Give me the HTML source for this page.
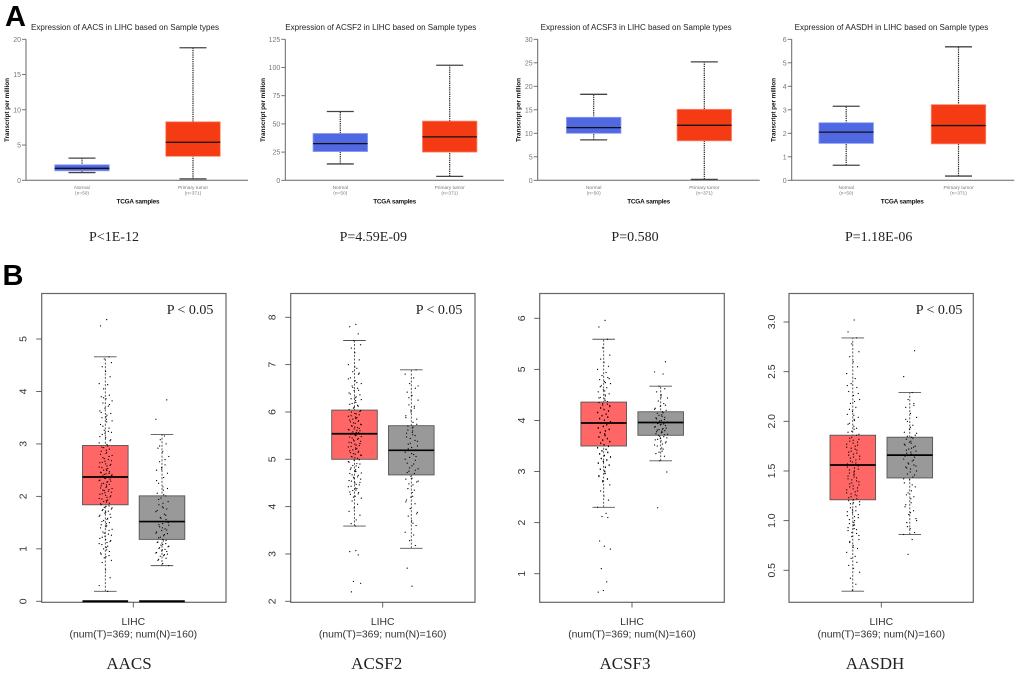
<!DOCTYPE html>
<html lang="en">
<head>
<meta charset="utf-8">
<title>Expression of AACS, ACSF2, ACSF3 and AASDH in LIHC</title>
<style>
html,body{margin:0;padding:0;background:#fff;}
svg{display:block;filter:blur(0.35px);}
.letter{font:bold 29px "Liberation Sans",sans-serif;fill:#000;}
.atitle{font:8px "Liberation Sans",sans-serif;fill:#222;}
.ylab{font:bold 6.4px "Liberation Sans",sans-serif;fill:#111;text-anchor:middle;}
.xlab{font:bold 6.4px "Liberation Sans",sans-serif;fill:#111;text-anchor:middle;}
.pa{font:14px "Liberation Serif",serif;fill:#222;text-anchor:middle;}
.pb{font:14px "Liberation Serif",serif;fill:#222;}
.gene{font:17px "Liberation Serif",serif;fill:#222;text-anchor:middle;}
.cat{font:10.4px "Liberation Sans",sans-serif;fill:#333;text-anchor:middle;}
</style>
</head>
<body>
<svg id="figure" xmlns="http://www.w3.org/2000/svg" width="1020" height="674" viewBox="0 0 1020 674">
  <rect x="0" y="0" width="1020" height="674" fill="#ffffff"/>
  <text class="letter" x="5" y="26">A</text>
  <text class="letter" x="2.5" y="285">B</text>

  <text class="atitle" x="31" y="30" textLength="188" lengthAdjust="spacingAndGlyphs">Expression of AACS in LIHC based on Sample types</text>
  <text class="atitle" x="285.3" y="30" textLength="191" lengthAdjust="spacingAndGlyphs">Expression of ACSF2 in LIHC based on Sample types</text>
  <text class="atitle" x="540.7" y="30" textLength="191" lengthAdjust="spacingAndGlyphs">Expression of ACSF3 in LIHC based on Sample types</text>
  <text class="atitle" x="794.7" y="30" textLength="193.6" lengthAdjust="spacingAndGlyphs">Expression of AASDH in LIHC based on Sample types</text>

  <text class="ylab" transform="translate(9,110) rotate(-90)" textLength="64">Transcript per million</text>
  <text class="ylab" transform="translate(265,110) rotate(-90)" textLength="64">Transcript per million</text>
  <text class="ylab" transform="translate(520.5,110) rotate(-90)" textLength="64">Transcript per million</text>
  <text class="ylab" transform="translate(775.5,110) rotate(-90)" textLength="64">Transcript per million</text>

  <text class="xlab" x="138" y="203.5" textLength="43">TCGA samples</text>
  <text class="xlab" x="394.7" y="203.5" textLength="43">TCGA samples</text>
  <text class="xlab" x="648.7" y="203.5" textLength="43">TCGA samples</text>
  <text class="xlab" x="902.3" y="203.5" textLength="43">TCGA samples</text>

  <text class="pa" x="114" y="241">P&lt;1E-12</text>
  <text class="pa" x="373.3" y="241">P=4.59E-09</text>
  <text class="pa" x="635" y="241">P=0.580</text>
  <text class="pa" x="878.7" y="241">P=1.18E-06</text>

  <text class="pb" x="166.7" y="314">P &lt; 0.05</text>
  <text class="pb" x="415.7" y="314">P &lt; 0.05</text>
  <text class="pb" x="915.7" y="314">P &lt; 0.05</text>

  <text class="cat" x="133.3" y="625">LIHC</text>
  <text class="cat" x="133.3" y="637.7">(num(T)=369; num(N)=160)</text>
  <text class="cat" x="382.7" y="625">LIHC</text>
  <text class="cat" x="382.7" y="637.7">(num(T)=369; num(N)=160)</text>
  <text class="cat" x="632" y="625">LIHC</text>
  <text class="cat" x="632" y="637.7">(num(T)=369; num(N)=160)</text>
  <text class="cat" x="881.3" y="625">LIHC</text>
  <text class="cat" x="881.3" y="637.7">(num(T)=369; num(N)=160)</text>

  <text class="gene" x="129" y="669">AACS</text>
  <text class="gene" x="376.7" y="669">ACSF2</text>
  <text class="gene" x="625" y="669">ACSF3</text>
  <text class="gene" x="875" y="669">AASDH</text>
</svg>

<script>
/* Panel A: [lower whisker, Q1, median, Q3, upper whisker] */
const panelACategories = ['Normal', 'Primary tumor'];
const panelACounts = ['(n=50)', '(n=371)'];
const tcgaAacsNormal = [1.1, 1.35, 1.7, 2.2, 3.15];
const tcgaAacsTumor = [0.2, 3.4, 5.4, 8.3, 18.8];
const tcgaAcsf2Normal = [14.5, 25.5, 32.5, 41.5, 61];
const tcgaAcsf2Tumor = [3.5, 25, 38.5, 52.5, 102];
const tcgaAcsf3Normal = [8.6, 10, 11.2, 13.4, 18.3];
const tcgaAcsf3Tumor = [0.2, 8.4, 11.7, 15.1, 25.2];
const tcgaAasdhNormal = [0.64, 1.57, 2.05, 2.45, 3.15];
const tcgaAasdhTumor = [0.18, 1.55, 2.33, 3.22, 5.68];
const tcgaAacsTicks = [0, 5, 10, 15, 20];
const tcgaAcsf2Ticks = [0, 25, 50, 75, 100, 125];
const tcgaAcsf3Ticks = [0, 5, 10, 15, 20, 25, 30];
const tcgaAasdhTicks = [0, 1, 2, 3, 4, 5, 6];

/* Panel B: box statistics */
const gepiaAacsTumor = [0.19, 1.84, 2.37, 2.97, 4.66];
const gepiaAacsNormal = [0.68, 1.18, 1.52, 2.01, 3.18];
const gepiaAcsf2Tumor = [3.59, 5.0, 5.54, 6.04, 7.51];
const gepiaAcsf2Normal = [3.12, 4.67, 5.19, 5.71, 6.89];
const gepiaAcsf3Tumor = [2.3, 3.5, 3.95, 4.36, 5.59];
const gepiaAcsf3Normal = [3.21, 3.71, 3.96, 4.17, 4.67];
const gepiaAasdhTumor = [0.29, 1.21, 1.56, 1.86, 2.84];
const gepiaAasdhNormal = [0.86, 1.43, 1.66, 1.84, 2.29];
const gepiaAacsTicks = ['0', '1', '2', '3', '4', '5'];
const gepiaAcsf2Ticks = ['2', '3', '4', '5', '6', '7', '8'];
const gepiaAcsf3Ticks = ['1', '2', '3', '4', '5', '6'];
const gepiaAasdhTicks = ['0.5', '1.0', '1.5', '2.0', '2.5', '3.0'];

/* Panel B: sample points */
const aacsTumorPoints = [5.37,5.25,4.66,4.62,4.55,4.47,4.38,4.28,4.15,4.13,4.05,3.93,3.9,3.86,3.82,3.78,3.72,3.68,3.63,3.58,3.55,3.5,3.47,3.42,3.37,3.3,3.26,3.22,3.18,3.12,3.06,3.02,2.96,2.93,2.9,2.86,2.82,2.78,2.74,2.7,2.67,2.64,2.61,2.58,2.55,2.52,2.49,2.46,2.44,2.42,2.4,2.38,2.35,2.33,2.3,2.28,2.25,2.23,2.2,2.17,2.15,2.12,2.1,2.07,2.04,2.01,1.98,1.95,1.92,1.89,1.86,1.82,1.79,1.76,1.73,1.7,1.66,1.62,1.58,1.54,1.5,1.46,1.42,1.37,1.32,1.28,1.24,1.2,1.16,1.12,1.08,1.03,0.98,0.92,0.87,0.83,0.78,0.74,0.6,0.45,0.3,0.19,3.88,3.75,3.6,3.52,3.44,3.34,3.24,3.2,3.14,3.08,2.99,2.94,2.88,2.84,2.8,2.76,2.72,2.68,2.65,2.62,2.59,2.56,2.53,2.5,2.47,2.45,2.43,2.41,2.39,2.36,2.34,2.31,2.29,2.27,2.24,2.22,2.19,2.16,2.13,2.11,2.08,2.05,2.02,1.99,1.96,1.93,1.9,1.87,1.84,1.81,1.78,1.75,1.72,1.68,1.64,1.6,1.56,1.52,1.48,1.44,1.4,1.35,1.3,1.26,1.22,1.18,1.14,1.1,1.05,1,0.95,0.9,0.85];
const aacsNormalPoints = [3.84,3.47,3.15,3.08,3.0,2.92,2.85,2.76,2.66,2.6,2.55,2.5,2.44,2.36,2.25,2.18,2.12,2.06,2.01,1.97,1.9,1.84,1.8,1.76,1.71,1.66,1.6,1.56,1.52,1.48,1.45,1.42,1.38,1.35,1.32,1.29,1.25,1.21,1.18,1.15,1.12,1.1,1.07,1.04,1.01,0.98,0.95,0.92,0.89,0.86,0.82,0.78,0.72,0.68,2.96,2.7,2.52,2.3,2.15,2.03,1.94,1.87,1.78,1.73,1.64,1.58,1.5,1.46,1.4,1.36,1.3,1.27,1.22,1.16,1.13,1.08,1.05,1.02,0.99,0.96,0.93,0.9,0.87,0.8];
const acsf2TumorPoints = [7.85,7.8,7.65,7.51,7.42,7.35,7.25,7.1,7.0,6.92,6.85,6.8,6.72,6.66,6.6,6.55,6.5,6.45,6.4,6.36,6.32,6.28,6.24,6.2,6.16,6.12,6.08,6.03,6.0,5.97,5.94,5.91,5.88,5.85,5.82,5.79,5.76,5.73,5.7,5.67,5.64,5.62,5.6,5.57,5.55,5.52,5.5,5.47,5.44,5.41,5.38,5.35,5.32,5.29,5.26,5.23,5.2,5.17,5.14,5.11,5.08,5.05,5.02,4.98,4.94,4.9,4.86,4.82,4.78,4.74,4.7,4.66,4.62,4.58,4.54,4.5,4.46,4.42,4.38,4.34,4.3,4.26,4.22,4.18,4.12,4.05,3.97,3.9,3.82,3.72,3.64,3.59,3.07,3.05,2.98,2.42,2.38,2.2,6.95,6.82,6.7,6.62,6.52,6.46,6.38,6.3,6.26,6.18,6.14,6.1,6.05,6.01,5.96,5.92,5.89,5.86,5.83,5.8,5.77,5.74,5.71,5.68,5.65,5.63,5.61,5.58,5.56,5.53,5.51,5.48,5.45,5.42,5.39,5.36,5.33,5.3,5.27,5.24,5.21,5.18,5.15,5.12,5.09,5.06,5.03,4.99,4.95,4.91,4.87,4.83,4.79,4.75,4.71,4.67,4.63,4.59,4.55,4.51,4.47,4.43,4.39,4.35,4.31,4.27,4.2];
const acsf2NormalPoints = [6.89,6.8,6.72,6.6,6.5,6.42,6.35,6.25,6.15,6.08,6.0,5.92,5.85,5.78,5.7,5.66,5.6,5.55,5.5,5.44,5.38,5.32,5.25,5.2,5.15,5.1,5.04,4.98,4.92,4.86,4.8,4.75,4.7,4.64,4.58,4.52,4.46,4.38,4.3,4.22,4.14,4.06,3.96,3.88,3.8,3.7,3.6,3.46,3.4,3.28,3.18,2.7,2.32,6.55,6.3,6.12,6.04,5.88,5.74,5.68,5.62,5.57,5.52,5.47,5.4,5.34,5.28,5.22,5.12,5.06,5.0,4.9,4.82,4.77,4.72,4.6,4.54,4.48,4.35,4.2,4.1,3.85,3.65];
const acsf3TumorPoints = [5.96,5.83,5.59,5.42,5.28,5.2,5.14,5.06,5.0,4.94,4.88,4.84,4.8,4.76,4.72,4.68,4.64,4.6,4.56,4.52,4.48,4.45,4.42,4.39,4.35,4.32,4.3,4.27,4.24,4.21,4.18,4.15,4.12,4.09,4.06,4.03,4.0,3.97,3.94,3.91,3.88,3.85,3.82,3.79,3.76,3.73,3.7,3.67,3.64,3.61,3.58,3.55,3.52,3.49,3.46,3.43,3.4,3.37,3.34,3.31,3.28,3.25,3.22,3.19,3.16,3.12,3.08,3.04,3.0,2.96,2.9,2.85,2.8,2.74,2.62,2.52,2.44,2.3,2.18,2.12,2.1,1.64,1.54,1.48,1.1,0.84,0.67,0.64,4.82,4.74,4.66,4.58,4.5,4.44,4.37,4.33,4.29,4.25,4.22,4.19,4.16,4.13,4.1,4.07,4.04,4.01,3.98,3.95,3.92,3.89,3.86,3.83,3.8,3.77,3.74,3.71,3.68,3.65,3.62,3.59,3.56,3.53,3.5,3.47,3.44,3.41,3.38,3.35,3.32,3.29,3.26,3.23,3.2,3.17,3.13,3.09,3.05,3.01,2.97,2.92,2.86,2.82];
const acsf3NormalPoints = [5.15,4.95,4.91,4.67,4.62,4.56,4.5,4.44,4.38,4.33,4.28,4.24,4.2,4.17,4.14,4.11,4.08,4.05,4.02,3.99,3.96,3.94,3.92,3.9,3.87,3.84,3.82,3.8,3.78,3.76,3.73,3.71,3.68,3.65,3.62,3.58,3.54,3.5,3.46,3.4,3.35,3.3,3.21,2.99,2.29,4.46,4.3,4.22,4.15,4.1,4.06,4.03,4.0,3.97,3.95,3.93,3.91,3.88,3.85,3.83,3.81,3.79,3.77,3.74,3.72,3.69,3.66,3.63,3.6,3.56,3.52,3.44,3.38];
const aasdhTumorPoints = [3.02,2.9,2.84,2.78,2.7,2.65,2.6,2.55,2.48,2.43,2.38,2.34,2.3,2.26,2.22,2.18,2.14,2.1,2.07,2.04,2.01,1.98,1.95,1.92,1.89,1.86,1.84,1.82,1.8,1.78,1.76,1.74,1.72,1.7,1.68,1.66,1.64,1.62,1.6,1.58,1.56,1.54,1.52,1.5,1.48,1.46,1.44,1.42,1.4,1.38,1.36,1.34,1.32,1.3,1.28,1.26,1.24,1.22,1.2,1.18,1.16,1.13,1.1,1.08,1.05,1.03,1.0,0.97,0.95,0.92,0.9,0.87,0.84,0.81,0.78,0.75,0.72,0.68,0.64,0.62,0.58,0.55,0.52,0.48,0.42,0.36,0.3,2.36,2.28,2.2,2.12,2.06,2.02,1.97,1.93,1.9,1.87,1.83,1.81,1.79,1.77,1.75,1.73,1.71,1.69,1.67,1.65,1.63,1.61,1.59,1.57,1.55,1.53,1.51,1.49,1.47,1.45,1.43,1.41,1.39,1.37,1.35,1.33,1.31,1.29,1.27,1.25,1.23,1.21,1.19,1.17,1.14,1.11,1.09,1.06,1.04,1.01,0.98,0.96,0.93,0.91,0.88,0.85,0.79,0.73];
const aasdhNormalPoints = [2.71,2.45,2.29,2.22,2.18,2.14,2.08,2.04,2.0,1.96,1.92,1.89,1.86,1.84,1.82,1.8,1.78,1.76,1.74,1.72,1.7,1.68,1.66,1.64,1.62,1.6,1.58,1.56,1.54,1.52,1.5,1.47,1.44,1.41,1.38,1.34,1.3,1.26,1.22,1.18,1.14,1.1,1.06,1.02,0.98,0.92,0.88,0.86,0.81,0.66,2.16,2.02,1.94,1.88,1.85,1.83,1.79,1.77,1.75,1.73,1.71,1.69,1.67,1.65,1.61,1.57,1.55,1.53,1.49,1.46,1.42,1.36,1.28,1.24,1.16,1.08,1.0,0.94];
const jitterPattern = [0.2,-0.7,0.55,-0.15,0.9,-0.45,0.05,0.7,-0.9,0.35,-0.25,0.6,-0.6,0.1,1,-0.35,0.45,-0.05,-0.8,0.8,0.25,-0.5,0.15];

const SVG_NS = 'http://www.w3.org/2000/svg';
const root = document.getElementById('figure');

function make(tag, parent, props, text) {
  const el = document.createElementNS(SVG_NS, tag);
  for (const k in props) el.setAttribute(k, props[k]);
  if (text !== undefined) el.textContent = text;
  parent.appendChild(el);
  return el;
}

function linearScale(d0, r0, d1, r1) {
  return function (v) { return r0 + (v - d0) * (r1 - r0) / (d1 - d0); };
}

function drawTcgaBox(parent, stats, cx, y, fill, edge, label) {
  const boxW = 54.5, capW = 27;
  const whisker = make('path', parent, {
    d: 'M' + cx + ' ' + y(stats[0]) + 'V' + y(stats[4]),
    stroke: '#222', 'stroke-width': 1.2, 'stroke-dasharray': '1.3 0.9', fill: 'none'
  });
  
  
  const lowCap = make('line', parent, { x1: cx - capW / 2, x2: cx + capW / 2, y1: y(stats[0]), y2: y(stats[0]), stroke: '#444', 'stroke-width': 1.3 });
  
  
  const highCap = make('line', parent, { x1: cx - capW / 2, x2: cx + capW / 2, y1: y(stats[4]), y2: y(stats[4]), stroke: '#444', 'stroke-width': 1.3 });
  
  
  const box = make('rect', parent, {
    x: cx - boxW / 2, y: y(stats[3]), width: boxW, height: y(stats[1]) - y(stats[3]),
    fill: fill, stroke: edge, 'stroke-width': 0.8
  });
  
  
  const median = make('line', parent, { x1: cx - boxW / 2, x2: cx + boxW / 2, y1: y(stats[2]), y2: y(stats[2]), stroke: '#111', 'stroke-width': 1.3 });
  
  
}

function drawTcga(name, axisX, rightX, centers, ticks, normal, tumor) {
  const g = make('g', root, {});
  
  
  const y = linearScale(0, 180.3, ticks[ticks.length - 1], 39.3);
  const axis = make('path', g, { d: 'M' + axisX + ' ' + y(ticks[ticks.length - 1]) + 'V180.3H' + rightX, fill: 'none', stroke: '#666', 'stroke-width': 1 });
  
  
  ticks.forEach(function (t) {
    const tick = make('line', g, { x1: axisX - 4, x2: axisX, y1: y(t), y2: y(t), stroke: '#666', 'stroke-width': 0.9 });
    
    
    const lab = make('text', g, { x: axisX - 5, y: y(t) + 2.5, 'text-anchor': 'end', 'font-family': '"Liberation Sans",sans-serif', 'font-size': 7, fill: '#777' }, String(t));
    
    
  });
  drawTcgaBox(g, normal, centers[0], y, '#5069e2', '#8b9bee', name + '-normal');
  drawTcgaBox(g, tumor, centers[1], y, '#f53b13', '#fa8a70', name + '-tumor');
  panelACategories.forEach(function (c, i) {
    const lab = make('text', g, { x: centers[i], y: 188.8, 'text-anchor': 'middle', 'font-family': '"Liberation Sans",sans-serif', 'font-size': 4.8, fill: '#777' }, c);
    
    
    const cnt = make('text', g, { x: centers[i], y: 194.6, 'text-anchor': 'middle', 'font-family': '"Liberation Sans",sans-serif', 'font-size': 4.8, fill: '#777' }, panelACounts[i]);
    
    
  });
}

function drawGepiaBox(parent, stats, points, cx, y, fill, label, phase) {
  const boxW = 45.6, capW = 22.6;
  const whisker = make('path', parent, {
    d: 'M' + cx + ' ' + y(stats[0]) + 'V' + y(stats[4]),
    stroke: '#333', 'stroke-width': 0.8, 'stroke-dasharray': '2 1.6', fill: 'none'
  });
  
  
  const lowCap = make('line', parent, { x1: cx - capW / 2, x2: cx + capW / 2, y1: y(stats[0]), y2: y(stats[0]), stroke: '#555', 'stroke-width': 0.9 });
  
  
  const highCap = make('line', parent, { x1: cx - capW / 2, x2: cx + capW / 2, y1: y(stats[4]), y2: y(stats[4]), stroke: '#555', 'stroke-width': 0.9 });
  
  
  const box = make('rect', parent, {
    x: cx - boxW / 2, y: y(stats[3]), width: boxW, height: y(stats[1]) - y(stats[3]),
    fill: fill, stroke: '#555', 'stroke-width': 0.9
  });
  
  
  const median = make('line', parent, { x1: cx - boxW / 2, x2: cx + boxW / 2, y1: y(stats[2]), y2: y(stats[2]), stroke: '#000', 'stroke-width': 1.7 });
  
  
  points.forEach(function (v, i) {
    const j = jitterPattern[(i + phase) % jitterPattern.length];
    const dot = make('circle', parent, { cx: cx + j * 6.8, cy: y(v), r: 0.62, fill: '#000' });
    
    
  });
}

function drawGepia(name, frame, tickA, tickB, ticks, centers, tickX, labelX, tumor, normal, tumorPts, normalPts, zeroBars) {
  const g = make('g', root, {});
  
  
  const y = linearScale(tickA[0], tickA[1], tickB[0], tickB[1]);
  const border = make('rect', g, { x: frame[0], y: 293.5, width: frame[1] - frame[0], height: 308.8, fill: 'none', stroke: '#666', 'stroke-width': 1.2 });
  
  
  ticks.forEach(function (t) {
    const yy = y(Number(t));
    const tick = make('line', g, { x1: frame[0] - 5.5, x2: frame[0], y1: yy, y2: yy, stroke: '#555', 'stroke-width': 0.9 });
    
    
    const lab = make('text', g, {
      transform: 'translate(' + labelX + ',' + yy + ') rotate(-90)', 'text-anchor': 'middle',
      'font-family': '"Liberation Sans",sans-serif', 'font-size': 10.4, fill: '#333'
    }, t);
    
    
  });
  const xTick = make('line', g, { x1: tickX, x2: tickX, y1: 602.3, y2: 607.5, stroke: '#555', 'stroke-width': 0.9 });
  
  
  if (zeroBars) {
    centers.forEach(function (c) {
      const bar = make('line', g, { x1: c - 22.8, x2: c + 22.8, y1: y(0), y2: y(0), stroke: '#000', 'stroke-width': 2 });
      
      
    });
  }
  drawGepiaBox(g, tumor, tumorPts, centers[0], y, '#ff6666', name + '-tumor', 0);
  drawGepiaBox(g, normal, normalPts, centers[1], y, '#999999', name + '-normal', 7);
}

drawTcga('aacs', 26, 248, [82, 193], tcgaAacsTicks, tcgaAacsNormal, tcgaAacsTumor);
drawTcga('acsf2', 285.3, 504, [340.3, 449.7], tcgaAcsf2Ticks, tcgaAcsf2Normal, tcgaAcsf2Tumor);
drawTcga('acsf3', 537.7, 759.7, [593.7, 704.3], tcgaAcsf3Ticks, tcgaAcsf3Normal, tcgaAcsf3Tumor);
drawTcga('aasdh', 791.7, 1014.3, [846.2, 958.5], tcgaAasdhTicks, tcgaAasdhNormal, tcgaAasdhTumor);

drawGepia('aacs-gepia', [41.7, 226], [0, 601.3], [5, 339], gepiaAacsTicks, [105.3, 162], 133.3, 26.5, gepiaAacsTumor, gepiaAacsNormal, aacsTumorPoints, aacsNormalPoints, true);
drawGepia('acsf2-gepia', [290.7, 475], [2, 601.3], [8, 317.3], gepiaAcsf2Ticks, [354.5, 411.3], 382.7, 275.5, gepiaAcsf2Tumor, gepiaAcsf2Normal, acsf2TumorPoints, acsf2NormalPoints, false);
drawGepia('acsf3-gepia', [539.7, 724.3], [1, 573.7], [6, 318.3], gepiaAcsf3Ticks, [603.7, 660.7], 632, 525, gepiaAcsf3Tumor, gepiaAcsf3Normal, acsf3TumorPoints, acsf3NormalPoints, false);
drawGepia('aasdh-gepia', [789, 973.3], [0.5, 570.3], [3, 322], gepiaAasdhTicks, [852.8, 909.8], 881.3, 775, gepiaAasdhTumor, gepiaAasdhNormal, aasdhTumorPoints, aasdhNormalPoints, false);
</script>
</body>
</html>
